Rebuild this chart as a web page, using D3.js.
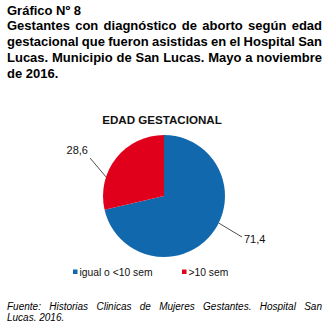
<!DOCTYPE html>
<html>
<head>
<meta charset="utf-8">
<script src="https://cdn.jsdelivr.net/npm/d3@7/dist/d3.min.js"></script>
<style>
  html, body { margin: 0; padding: 0; background: #fff; }
  svg { display: block; font-family: "Liberation Sans", Arial, sans-serif; }
</style>
</head>
<body>
<svg id="chart" width="329" height="335"></svg>
<script>
// Data
const categories = ["igual o <10 sem", ">10 sem"];
const values = [71.4, 28.6];
const valueLabels = ["71,4", "28,6"];
const colors = ["#1268ad", "#e1001b"];

const titleLines = [
  "Gráfico Nº 8",
  "Gestantes con diagnóstico de aborto según edad",
  "gestacional que fueron asistidas en el Hospital San",
  "Lucas. Municipio de San Lucas. Mayo a noviembre",
  "de 2016."
];
const chartTitle = "EDAD GESTACIONAL";
const sourceLines = [
  "Fuente: Historias Clinicas de Mujeres Gestantes. Hospital San",
  "Lucas. 2016."
];

const svg = d3.select("#chart");

// Justified text block: spread words across the width except on the last line
function textBlock(lines, opts) {
  const g = svg.append("g");
  lines.forEach((line, i) => {
    const y = opts.y0 + i * opts.lh;
    const justify = opts.justify && i > 0 && i < lines.length - 1 || (opts.justifyAll && i < lines.length - 1);
    const words = line.split(" ");
    if (!justify) {
      g.append("text").attr("x", opts.x0).attr("y", y)
        .attr("font-size", opts.size).attr("font-weight", opts.weight)
        .attr("font-style", opts.style).attr("fill", "#000").text(line);
      return;
    }
    const nodes = words.map(w => g.append("text").attr("y", y)
      .attr("font-size", opts.size).attr("font-weight", opts.weight)
      .attr("font-style", opts.style).attr("fill", "#000").text(w));
    const widths = nodes.map(n => n.node().getComputedTextLength());
    const total = d3.sum(widths);
    const gap = (opts.x1 - opts.x0 - total) / (words.length - 1);
    let x = opts.x0;
    nodes.forEach((n, j) => { n.attr("x", x); x += widths[j] + gap; });
  });
}

textBlock(titleLines, { x0: 7, x1: 322, y0: 14.5, lh: 15.8, size: 13, weight: "bold", style: "normal", justify: true });
textBlock(sourceLines, { x0: 7, x1: 322, y0: 309.5, lh: 11.2, size: 10, weight: "normal", style: "italic", justifyAll: true });

// Chart title
svg.append("text")
  .attr("x", 162).attr("y", 123.5)
  .attr("text-anchor", "middle")
  .attr("font-size", 11.6).attr("font-weight", "bold").attr("fill", "#111")
  .text(chartTitle);

// Pie
const cx = 164, cy = 196, r = 61;
const pie = d3.pie().sort(null).startAngle(0).endAngle(2 * Math.PI);
const arcs = pie(values);
const arc = d3.arc().innerRadius(0).outerRadius(r);

const pg = svg.append("g").attr("transform", `translate(${cx},${cy})`);
pg.selectAll("path.slice").data(arcs).enter().append("path")
  .attr("class", "slice")
  .attr("d", arc)
  .attr("fill", (d, i) => colors[i]);

// Leader lines and value labels
const leaderEnds = [
  { dx: 78, dy: 41, anchor: "start", tx: 80, ty: 47 },
  { dx: -74, dy: -38, anchor: "end", tx: -76, ty: -42 }
];
arcs.forEach((d, i) => {
  // leader starts on the rim of each slice
  const a = i === 0 ? 2.03 : 5.03;
  const sx = Math.sin(a) * r, sy = -Math.cos(a) * r;
  const e = leaderEnds[i];
  pg.append("line")
    .attr("x1", sx).attr("y1", sy)
    .attr("x2", e.dx).attr("y2", e.dy)
    .attr("stroke", "#222").attr("stroke-width", 0.8);
  pg.append("text")
    .attr("x", e.tx).attr("y", e.ty)
    .attr("text-anchor", e.anchor)
    .attr("font-size", 11).attr("fill", "#111")
    .text(valueLabels[i]);
});

// Legend
const legendItems = [{ x: 73 }, { x: 182 }];
categories.forEach((c, i) => {
  const lx = legendItems[i].x;
  svg.append("rect").attr("x", lx).attr("y", 269.5).attr("width", 4.5).attr("height", 4.5)
    .attr("fill", colors[i]);
  svg.append("text").attr("x", lx + 6.5).attr("y", 275.5)
    .attr("font-size", 10.3).attr("fill", "#111").text(c);
});
</script>
</body>
</html>
